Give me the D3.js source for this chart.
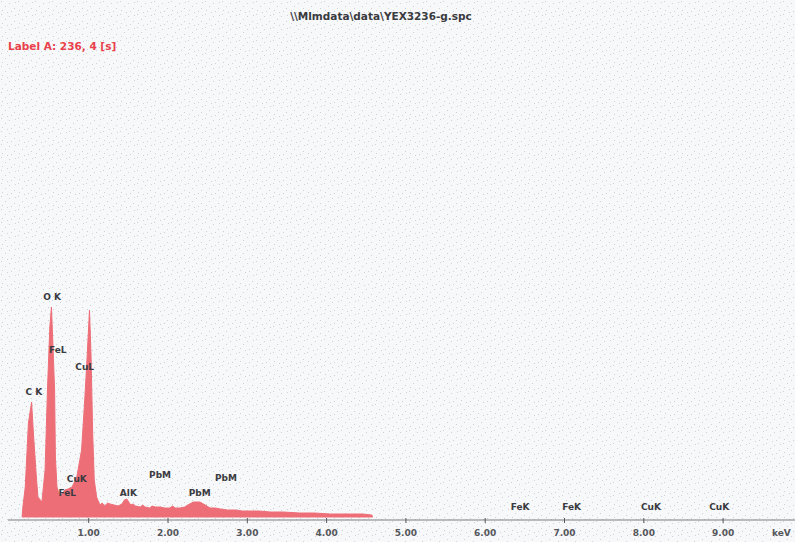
<!DOCTYPE html>
<html>
<head>
<meta charset="utf-8">
<script src="https://cdn.jsdelivr.net/npm/d3@7"></script>
<style>
  html, body { margin: 0; padding: 0; background: #f7f8fa; }
  svg { display: block; font-family: "DejaVu Sans", Arial, sans-serif; }
</style>
</head>
<body>
<div id="chart"></div>
<script>
// spectrum: energy (keV) and counts
const energy = [0.16, 0.17, 0.20, 0.24, 0.28, 0.30, 0.34, 0.36, 0.41, 0.45, 0.48, 0.51, 0.53, 0.55, 0.57, 0.58, 0.60,
  0.64, 0.67, 0.70, 0.74, 0.79, 0.85, 0.91, 0.95, 0.98, 1.01, 1.03, 1.05, 1.07, 1.10, 1.14, 1.17, 1.20, 1.24, 1.27,
  1.32, 1.37, 1.42, 1.45, 1.48, 1.53, 1.56, 1.59, 1.65, 1.68, 1.71, 1.77, 1.80, 1.84, 1.90, 1.96, 2.02, 2.06, 2.09,
  2.15, 2.21, 2.25, 2.32, 2.40, 2.47, 2.53, 2.60, 2.66, 2.75, 2.85, 2.94, 3.03, 3.15, 3.29, 3.45, 3.66, 3.85, 4.04,
  4.18, 4.30, 4.45, 4.57, 4.58];
const counts = [0, 10, 30, 94, 115, 87, 40, 20, 15, 47, 127, 190, 210, 170, 127, 60, 30,
  20, 24, 27, 28, 30, 40, 67, 117, 160, 207, 160, 84, 37, 20, 12, 14, 11, 14, 13,
  12, 11, 13, 17, 18, 12, 13, 11, 10, 12, 10, 9, 11, 10, 10, 9, 9, 11, 9,
  9, 10, 12, 15, 15, 12, 9, 9, 8, 7, 7, 6, 6, 6, 5, 5, 4, 4, 3,
  3, 3, 3, 2, 0];

const peakNames = ['C K', 'O K', 'FeL', 'CuL', 'CuK', 'FeL', 'AlK', 'PbM', 'PbM', 'PbM', 'FeK', 'FeK', 'CuK', 'CuK'];
const peakEnergy = [0.31, 0.54, 0.61, 0.95, 0.85, 0.73, 1.50, 1.90, 2.40, 2.73, 6.44, 7.09, 8.09, 8.95];
const peakLevel = [122, 217, 164, 147, 35, 21, 21, 39, 21, 36, 7, 7, 7, 7];

const tickValues = [1, 2, 3, 4, 5, 6, 7, 8, 9];

const fileTitle = '\\\\Mlmdata\\data\\YEX3236-g.spc';
const labelText = 'Label A: 236, 4 [s]';

const width = 795;
const height = 542;
const baseY = 517;

const x = d3.scaleLinear().domain([0, 10]).range([9.4, 802.4]);
const y = d3.scaleLinear().domain([0, 500]).range([baseY, baseY - 500]);

const svg = d3.select('#chart')
  .append('svg')
  .attr('width', width)
  .attr('height', height)
  .attr('viewBox', [0, 0, width, height]);

// stippled background
const pat = svg.append('defs').append('pattern')
  .attr('id', 'dots')
  .attr('width', 17)
  .attr('height', 13)
  .attr('patternUnits', 'userSpaceOnUse');
pat.append('rect').attr('width', 17).attr('height', 13).attr('fill', '#f7f8fa');
[[1, 1], [9, 3], [5, 6], [14, 8], [2, 10], [11, 11], [7, 12], [15, 2]].forEach(([px, py]) => {
  pat.append('rect').attr('x', px).attr('y', py).attr('width', 1).attr('height', 1).attr('fill', '#cfd1d6');
});
svg.append('rect').attr('width', width).attr('height', height).attr('fill', 'url(#dots)');

// spectrum
const data = energy.map((e, i) => ({ e, c: counts[i] }));
const area = d3.area()
  .x((d) => x(d.e))
  .y0(y(0))
  .y1((d) => y(d.c));

svg.append('path')
  .datum(data)
  .attr('fill', '#ee6e78')
  .attr('stroke', '#ee6e78')
  .attr('stroke-width', 1)
  .attr('stroke-linejoin', 'round')
  .attr('d', area);

// axis
const axis = svg.append('g').attr('transform', `translate(0,520)`);
axis.append('line')
  .attr('x1', 8).attr('x2', width)
  .attr('stroke', '#7a7c82').attr('stroke-width', 1.2);
axis.selectAll('.tk')
  .data(tickValues)
  .join('line')
  .attr('class', 'tk')
  .attr('x1', (d) => x(d)).attr('x2', (d) => x(d))
  .attr('y1', -2).attr('y2', 3)
  .attr('stroke', '#55575c');
axis.selectAll('text')
  .data(tickValues)
  .join('text')
  .attr('x', (d) => x(d))
  .attr('y', 16)
  .attr('text-anchor', 'middle')
  .attr('font-size', 9)
  .attr('font-weight', 'bold')
  .attr('fill', '#55575c')
  .text((d) => d.toFixed(2));
axis.append('text')
  .attr('x', 772).attr('y', 16)
  .attr('font-size', 9)
  .attr('font-weight', 'bold')
  .attr('fill', '#55575c')
  .text('keV');

// peak labels
svg.append('g')
  .selectAll('text')
  .data(peakNames)
  .join('text')
  .attr('x', (d, i) => x(peakEnergy[i]))
  .attr('y', (d, i) => y(peakLevel[i]))
  .attr('text-anchor', 'middle')
  .attr('font-size', 9)
  .attr('font-weight', 'bold')
  .attr('fill', '#3a3b40')
  .text((d) => d);

// header
svg.append('text')
  .attr('x', 381).attr('y', 20)
  .attr('text-anchor', 'middle')
  .attr('font-size', 10.5)
  .attr('font-weight', 'bold')
  .attr('fill', '#3a3b40')
  .text(fileTitle);
svg.append('text')
  .attr('x', 8).attr('y', 50)
  .attr('font-size', 10.5)
  .attr('font-weight', 'bold')
  .attr('fill', '#e8414b')
  .text(labelText);
</script>
</body>
</html>
